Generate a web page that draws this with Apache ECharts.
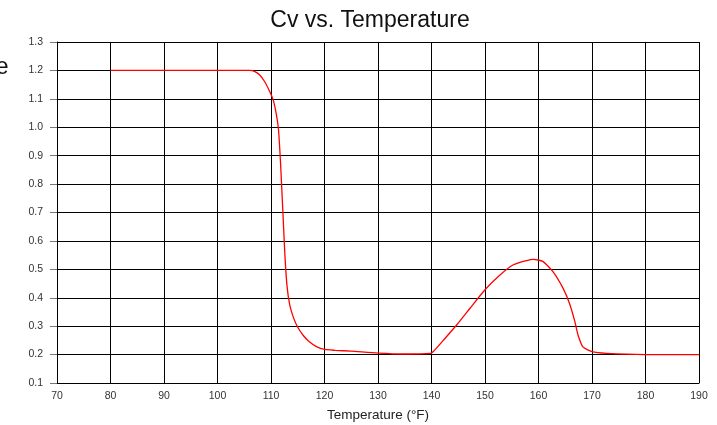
<!DOCTYPE html>
<html>
<head>
<meta charset="utf-8">
<script src="https://cdn.jsdelivr.net/npm/echarts@6/dist/echarts.min.js"></script>
<style>
  html, body { margin: 0; padding: 0; background: #fff; }
  #main { width: 717px; height: 425px; }
</style>
</head>
<body>
<div id="main"></div>
<script>
// 读图得到的数据
var temps = [80, 90, 100, 104, 106, 107, 107.9, 108.8, 109.75, 110.4, 111.0, 111.4, 111.75, 112.0, 112.25, 112.6, 113.0, 113.5, 114.2, 115.0, 116.0, 117.0, 118.5, 120, 122, 125, 130, 135, 139.8, 140.3, 142.2, 144.7, 147.2, 150.0, 152.8, 155.3, 157.8, 159.0, 160.8, 162.7, 164.6, 165.8, 166.8, 167.4, 168.3, 170, 172.7, 180, 190];
var cvValues = [1.2, 1.2, 1.2, 1.2, 1.2, 1.196, 1.184, 1.161, 1.126, 1.097, 1.045, 0.992, 0.886, 0.79, 0.69, 0.55, 0.44, 0.375, 0.33, 0.296, 0.268, 0.248, 0.228, 0.218, 0.215, 0.212, 0.205, 0.202, 0.204, 0.21, 0.25, 0.304, 0.363, 0.428, 0.48, 0.516, 0.531, 0.535, 0.528, 0.492, 0.433, 0.38, 0.316, 0.268, 0.227, 0.21, 0.204, 0.2, 0.2];

var seriesData = temps.map(function (t, i) { return [t, cvValues[i]]; });

var font = 'Liberation Sans, Arial, sans-serif';
var myChart = echarts.init(document.getElementById('main'));

var option = {
    animation: false,
    title: {
        text: 'Cv vs. Temperature',
        left: 365,
        textAlign: 'center',
        top: 4,
        textStyle: { fontFamily: font, fontSize: 23, fontWeight: 'normal', color: '#111' }
    },
    graphic: [{
        type: 'text',
        style: {
            x: 8.5, y: 68,
            text: 'Cv Value',
            align: 'right',
            verticalAlign: 'middle',
            font: '23px ' + font,
            fill: '#111'
        }
    }],
    grid: { left: 57, right: 18, top: 42, bottom: 42, outerBoundsMode: 'none', containLabel: false },
    xAxis: {
        type: 'value',
        min: 70, max: 190, interval: 10,
        name: 'Temperature (°F)',
        nameLocation: 'middle',
        nameGap: 25,
        nameTextStyle: { fontFamily: font, fontSize: 13.5, color: '#222' },
        axisLine: { lineStyle: { color: '#000' } },
        axisTick: { show: false },
        axisLabel: { fontFamily: font, fontSize: 10.5, color: '#333', margin: 8 },
        splitLine: { show: true, lineStyle: { color: '#000', width: 1 } }
    },
    yAxis: {
        type: 'value',
        min: 0.1, max: 1.3, interval: 0.1,
        name: 'Cv',
        nameLocation: 'middle',
        nameGap: 55,
        nameTextStyle: { fontFamily: font, fontSize: 13, color: '#222' },
        axisLine: { show: true, lineStyle: { color: '#000' } },
        axisTick: { show: true, length: 7, lineStyle: { color: '#777' } },
        axisLabel: {
            fontFamily: font, fontSize: 10.5, color: '#333', margin: 14,
            formatter: function (v) { return v.toFixed(1); }
        },
        splitLine: { show: true, lineStyle: { color: '#000', width: 1 } }
    },
    series: [{
        type: 'line',
        data: seriesData,
        showSymbol: false,
        smooth: 0.2,
        lineStyle: { color: '#ff0000', width: 1.3 }
    }]
};
myChart.setOption(option);
</script>
</body>
</html>
